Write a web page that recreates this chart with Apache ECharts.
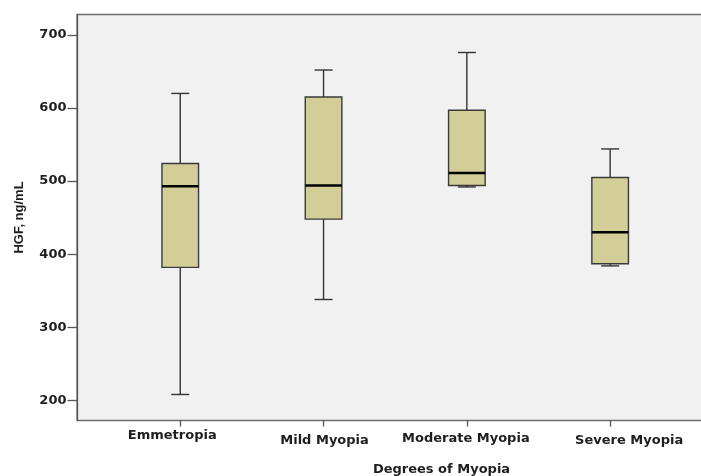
<!DOCTYPE html>
<html>
<head>
<meta charset="utf-8">
<script src="https://cdn.jsdelivr.net/npm/echarts@6/dist/echarts.min.js"></script>
<style>
html,body{margin:0;padding:0;background:#fff;}
#chart{width:701px;height:476px;}
</style>
</head>
<body>
<div id="chart"></div>
<script>
// ---- data ----
const categories = ['Emmetropia', 'Mild Myopia', 'Moderate Myopia', 'Severe Myopia'];
const whiskerLow  = [208, 338, 492, 384];
const quartile1   = [382, 448, 494, 387];
const medians     = [493, 494, 511, 430];
const quartile3   = [524, 615, 597, 505];
const whiskerHigh = [620, 652, 676, 544];
const yTicks = [200, 300, 400, 500, 600, 700];
const yName = 'HGF, ng/mL';
const xName = 'Degrees of Myopia';

const boxData = categories.map((c, i) => [i, whiskerLow[i], quartile1[i], medians[i], quartile3[i], whiskerHigh[i]]);

const chart = echarts.init(document.getElementById('chart'), null, {renderer: 'canvas'});
const yMin = 172.4, yMax = 728;
const textColor = '#1e1e1e';
const labelFont = {fontFamily: 'DejaVu Sans', fontWeight: 'bold', fontSize: 13, color: textColor};
const option = {
  animation: false,
  backgroundColor: '#fff',
  grid: [
    {left: 77, top: 14.5, width: 729, bottom: 55.5, outerBoundsMode: 'none', containLabel: false, show: true, backgroundColor: '#f0f1f0', borderColor: '#6e6e6e', borderWidth: 1.3},
    {left: 108.6, top: 14.5, width: 573.2, bottom: 55.5, outerBoundsMode: 'none', containLabel: false, show: false}
  ],
  xAxis: [
    {
      gridIndex: 0, type: 'value', min: 0, max: 1,
      axisLine: {show: false}, axisTick: {show: false}, axisLabel: {show: false}, splitLine: {show: false},
      name: xName, nameLocation: 'middle', nameGap: 43,
      nameTextStyle: {fontFamily: 'DejaVu Sans', fontWeight: 'bold', fontSize: 13, color: textColor}
    },
    {
      gridIndex: 1, type: 'category', data: categories, boundaryGap: true,
      axisLine: {show: false},
      axisTick: {show: true, alignWithLabel: true, length: 6, lineStyle: {color: '#555', width: 1.3}},
      axisLabel: {
        interval: 0, margin: 8,
        formatter: function (value, index) { return '{c' + index + '|' + value + '}'; },
        rich: {
          c0: Object.assign({padding: [1, 16, 0, 0]}, labelFont),
          c1: Object.assign({padding: [5.5, 0, 0, 2]}, labelFont),
          c2: Object.assign({padding: [3.5, 2, 0, 0]}, labelFont),
          c3: Object.assign({padding: [5.5, 0, 0, 38]}, labelFont)
        }
      },
      splitLine: {show: false}
    }
  ],
  yAxis: [
    {
      gridIndex: 0, type: 'value', min: yMin, max: yMax,
      axisLine: {show: true, lineStyle: {color: '#555', width: 1.3}},
      axisTick: {show: true, length: 9.5, customValues: yTicks, lineStyle: {color: '#555', width: 1.3}},
      axisLabel: {customValues: yTicks, fontFamily: 'DejaVu Sans', fontWeight: 'bold', fontSize: 13, color: textColor, margin: 10.5},
      splitLine: {show: false},
      name: yName, nameLocation: 'middle', nameGap: 51.5,
      nameTextStyle: {fontFamily: 'Liberation Sans', fontWeight: 'bold', fontSize: 13, color: textColor}
    },
    {gridIndex: 1, type: 'value', min: yMin, max: yMax, show: false}
  ],
  series: [{
    type: 'custom',
    xAxisIndex: 1, yAxisIndex: 1,
    data: boxData,
    encode: {x: 0, y: [1, 2, 3, 4, 5]},
    renderItem: function (params, api) {
      const i = api.value(0);
      const c = v => api.coord([i, v]);
      const pMin = c(api.value(1)), pQ1 = c(api.value(2)), pMed = c(api.value(3)), pQ3 = c(api.value(4)), pMax = c(api.value(5));
      const x = pMin[0];
      const hw = 18.3, cw = 9;
      const ls = {stroke: '#333', lineWidth: 1.4};
      return {
        type: 'group',
        children: [
          {type: 'line', shape: {x1: x, y1: pMax[1], x2: x, y2: pQ3[1]}, style: ls},
          {type: 'line', shape: {x1: x, y1: pQ1[1], x2: x, y2: pMin[1]}, style: ls},
          {type: 'line', shape: {x1: x - cw, y1: pMax[1], x2: x + cw, y2: pMax[1]}, style: ls},
          {type: 'line', shape: {x1: x - cw, y1: pMin[1], x2: x + cw, y2: pMin[1]}, style: ls},
          {type: 'rect', shape: {x: x - hw, y: pQ3[1], width: 2 * hw, height: pQ1[1] - pQ3[1]}, style: {fill: '#d3ce97', stroke: '#3a3a3a', lineWidth: 1.4}},
          {type: 'line', shape: {x1: x - hw, y1: pMed[1], x2: x + hw, y2: pMed[1]}, style: {stroke: '#000', lineWidth: 2.5}}
        ]
      };
    }
  }]
};
chart.setOption(option);
</script>
</body>
</html>
